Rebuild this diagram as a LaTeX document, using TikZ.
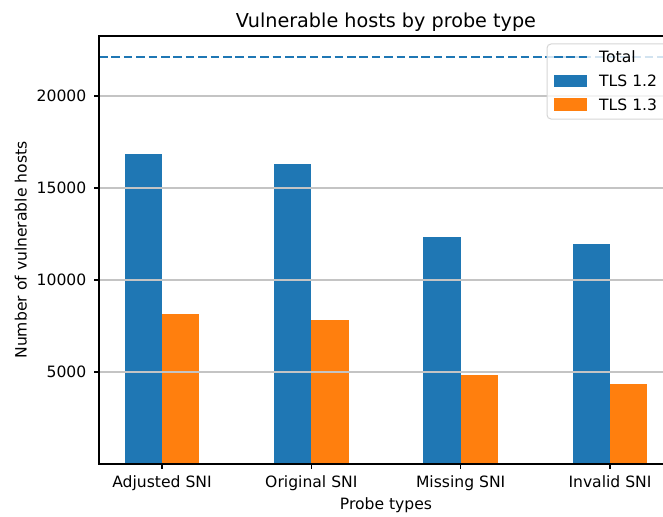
\documentclass[tikz,border=0pt]{standalone}
\usepackage{fontspec}
\setmainfont{DejaVu Sans}
\definecolor{tabblue}{HTML}{1F77B4}
\definecolor{taborange}{HTML}{FF7F0E}
\definecolor{gridgray}{HTML}{C4C4C4}
\definecolor{legendedge}{HTML}{D6D6D6}
\begin{document}
\begin{tikzpicture}[x=1pt,y=-1pt,
  % values are given in thousands of hosts
  declare function={yv(\v)=464-18.4*\v; xc(\i)=162+149.33*\i;},
  ticklabel/.style={font=\fontsize{15.6}{18}\selectfont, inner sep=0pt},
  titlelabel/.style={font=\fontsize{19.2}{22}\selectfont, inner sep=0pt},
  spine/.style={line width=1.2, black},
  gridline/.style={gridgray, line width=1.2},
  totalline/.style={tabblue, line width=2.3, dash pattern=on 8.6 off 3.8},
]
\useasboundingbox (0,0) rectangle (663,516);
\clip (0,0) rectangle (663,516);
\fill[white] (0,0) rectangle (663,516);

% bars: TLS 1.2 left of each tick, TLS 1.3 right of it
\foreach \i/\a/\b in {0/16.848/8.152, 1/16.304/7.826, 2/12.337/4.837, 3/11.957/4.348} {
  \fill[tabblue] ({xc(\i)-37.3},464) rectangle ({xc(\i)},{yv(\a)});
  \fill[taborange] ({xc(\i)},464) rectangle ({xc(\i)+37.3},{yv(\b)});
}

% horizontal grid, y ticks and labels
\foreach \k/\v in {5/5000,10/10000,15/15000,20/20000} {
  \draw[gridline] (99,{yv(\k)}) -- (673,{yv(\k)});
  \draw[spine] (99,{yv(\k)}) -- (93.6,{yv(\k)});
  \node[ticklabel, anchor=east] (ytick\k) at (86.5,{yv(\k)}) {\v};
}

% x ticks and labels
\foreach \i/\t in {0/Adjusted SNI, 1/Original SNI, 2/Missing SNI, 3/Invalid SNI} {
  \draw[spine] ({xc(\i)},464) -- ({xc(\i)},469.4);
  \node[ticklabel, anchor=base] (xtick\i) at ({xc(\i)},487.7) {\t};
}

% total reference line
\coordinate (totL) at (99,56.7);
\coordinate (totR) at (673,56.7);
\draw[totalline] (totL) -- (totR);

% axes frame
\draw[spine] (673,36) -- (99,36) -- (99,464) -- (673,464) -- cycle;

% titles
\node[titlelabel, anchor=base] (title) at (386,27.5) {Vulnerable hosts by probe type};
\node[ticklabel, anchor=base] (xlabel) at (386,509) {Probe types};
\node[ticklabel, anchor=base, rotate=90] (ylabel) at (26.5,250) {Number of vulnerable hosts};

% legend
\draw[legendedge, fill=white, fill opacity=0.8, rounded corners=4, line width=1] (547,44) rectangle (690,119);
\coordinate (legL) at (554,57);
\coordinate (legR) at (587,57);
\draw[totalline] (legL) -- (legR);
\fill[tabblue] (554,75) rectangle (587,86.7);
\fill[taborange] (554,98.3) rectangle (587,110.7);
\node[ticklabel, anchor=west] (legtotal) at (599,57) {Total};
\node[ticklabel, anchor=west] (leg12) at (599,80.8) {TLS 1.2};
\node[ticklabel, anchor=west] (leg13) at (599,104.4) {TLS 1.3};
\end{tikzpicture}
\end{document}
